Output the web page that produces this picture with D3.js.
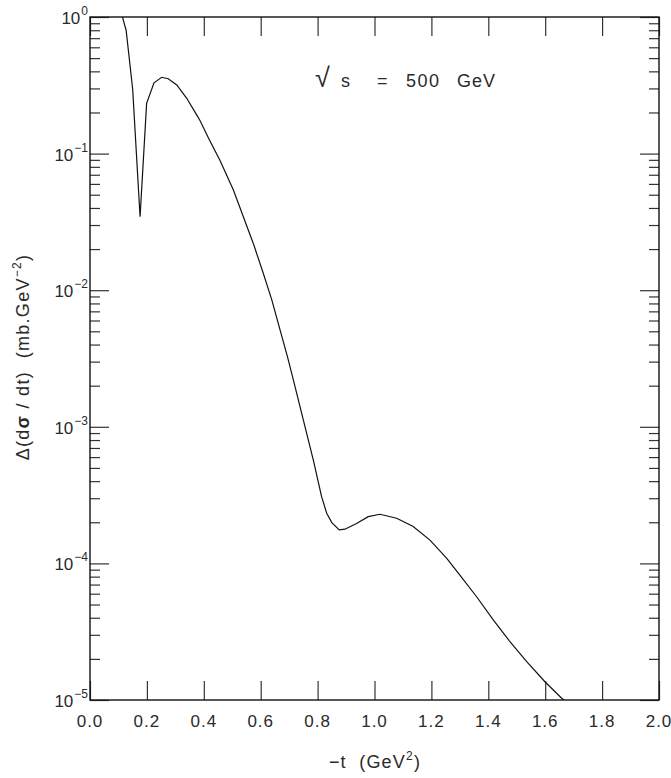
<!DOCTYPE html>
<html><head><meta charset="utf-8">
<script src="https://cdn.jsdelivr.net/npm/d3@7"></script>
<style>
body{margin:0;background:#fff;}
text{font-family:"Liberation Sans",Arial,sans-serif;fill:#2a2a2a;white-space:pre;}
</style></head>
<body><svg id="c" width="671" height="778"></svg>
<script>
const tValues = [0.10,0.117,0.127,0.150,0.176,0.199,0.225,0.252,0.275,0.305,0.340,0.375,0.387,0.419,0.457,0.504,0.539,0.574,0.609,0.639,0.668,0.694,0.715,0.750,0.785,0.814,0.832,0.850,0.876,0.896,0.937,0.978,1.019,1.078,1.136,1.195,1.254,1.300,1.359,1.418,1.476,1.535,1.599,1.658,1.68];
const dsigma = [1.35,0.95,0.80,0.296,0.0345,0.233,0.330,0.362,0.353,0.318,0.254,0.192,0.174,0.127,0.0891,0.0542,0.0345,0.0220,0.0133,0.00849,0.00512,0.00326,0.00220,0.00112,0.000571,0.000308,0.000233,0.000199,0.000176,0.000178,0.000196,0.000220,0.000229,0.000214,0.000186,0.000148,0.000109,0.0000822,0.0000570,0.0000385,0.0000267,0.0000191,0.0000136,0.0000103,0.0000095];
const xTicks = [0,0.2,0.4,0.6,0.8,1.0,1.2,1.4,1.6,1.8,2.0];
const xTickLabels = ["0.0","0.2","0.4","0.6","0.8","1.0","1.2","1.4","1.6","1.8","2.0"];
const yMajor = [1e-5,1e-4,1e-3,1e-2,1e-1,1];
const yExponents = ["−5","−4","−3","−2","−1","0"];

const svg = d3.select("#c");
const L=90,R=659,T=17,B=700;
const x = d3.scaleLinear().domain([0,2]).range([L,R]);
const y = d3.scaleLog().domain([1e-5,1]).range([B,T]);

const yMinor=[];
for(let e=-5;e<0;e++) for(let k=2;k<=9;k++) yMinor.push(k*Math.pow(10,e));

function styleAxis(g){g.select(".domain").remove();g.selectAll("line").attr("stroke","#333").attr("stroke-width",1.2);}
svg.append("g").attr("transform",`translate(0,${B})`).call(d3.axisBottom(x).tickValues(xTicks).tickSize(-19).tickFormat("")).call(styleAxis);
svg.append("g").attr("transform",`translate(0,${T})`).call(d3.axisTop(x).tickValues(xTicks).tickSize(-19).tickFormat("")).call(styleAxis);
svg.append("g").attr("transform",`translate(${L},0)`).call(d3.axisLeft(y).tickValues(yMajor).tickSize(-19).tickFormat("")).call(styleAxis);
svg.append("g").attr("transform",`translate(${L},0)`).call(d3.axisLeft(y).tickValues(yMinor).tickSize(-10).tickFormat("")).call(styleAxis);
svg.append("g").attr("transform",`translate(${R},0)`).call(d3.axisRight(y).tickValues(yMajor).tickSize(-19).tickFormat("")).call(styleAxis);
svg.append("g").attr("transform",`translate(${R},0)`).call(d3.axisRight(y).tickValues(yMinor).tickSize(-10).tickFormat("")).call(styleAxis);

svg.append("rect").attr("x",L).attr("y",T).attr("width",R-L).attr("height",B-T).attr("fill","none").attr("stroke","#111").attr("stroke-width",1.4);

svg.append("defs").append("clipPath").attr("id","clip").append("rect").attr("x",L).attr("y",T).attr("width",R-L).attr("height",B-T);
const data = tValues.map((t,i)=>[t,dsigma[i]]);
svg.append("path").datum(data).attr("clip-path","url(#clip)")
  .attr("d",d3.line().x(d=>x(d[0])).y(d=>y(d[1])))
  .attr("fill","none").attr("stroke","#111").attr("stroke-width",1.2);

// x tick labels
svg.selectAll(".xl").data(xTicks).enter().append("text")
  .attr("x",d=>x(d)).attr("y",B+27).attr("text-anchor","middle")
  .attr("font-size",17).attr("letter-spacing",1).text((d,i)=>xTickLabels[i]);

// y tick labels
yMajor.forEach((v,i)=>{
  const t=svg.append("text").attr("x",L-2).attr("y",y(v)+7).attr("text-anchor","end").attr("font-size",17);
  t.append("tspan").text("10");
  t.append("tspan").attr("font-size",12).attr("dy",-9).attr("dx",1).text(yExponents[i]);
});

// axis titles
const xt=svg.append("text").attr("x",375).attr("y",768).attr("text-anchor","middle").attr("font-size",18).attr("letter-spacing",1.2);
xt.append("tspan").text("−t  (GeV");
xt.append("tspan").attr("font-size",12).attr("dy",-8).text("2");
xt.append("tspan").attr("dy",8).text(")");

const yt=svg.append("text").attr("transform","translate(29,357) rotate(-90)").attr("text-anchor","middle").attr("font-size",18).attr("letter-spacing",1.3);
yt.append("tspan").text("Δ(d");
yt.append("tspan").attr("font-weight","bold").text("σ");
yt.append("tspan").text(" / dt)  (mb.GeV");
yt.append("tspan").attr("font-size",12).attr("dy",-8).text("−2");
yt.append("tspan").attr("dy",8).text(")");

// annotation
const an=svg.append("g");
an.append("text").attr("x",315).attr("y",87).attr("font-size",27).text("√");
an.append("text").attr("x",341).attr("y",87).attr("font-size",18).text("s");
an.append("text").attr("x",377).attr("y",87).attr("font-size",18).text("=");
an.append("text").attr("x",406).attr("y",87).attr("font-size",18).attr("letter-spacing",1.5).text("500");
an.append("text").attr("x",457).attr("y",87).attr("font-size",18).attr("letter-spacing",1).text("GeV");
</script></body></html>
